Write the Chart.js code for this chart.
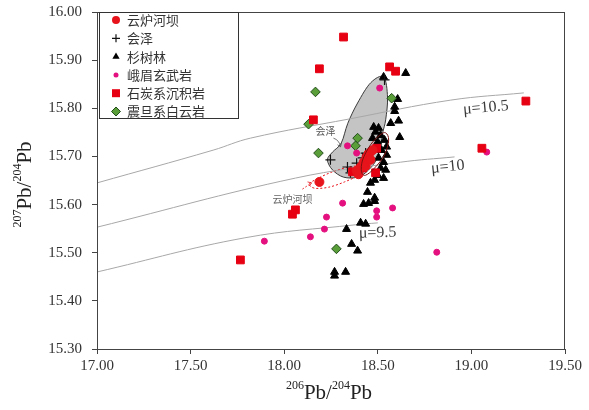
<!DOCTYPE html>
<html>
<head>
<meta charset="utf-8">
<script src="https://cdn.jsdelivr.net/npm/chart.js@4.4.1/dist/chart.umd.min.js"></script>
<style>
  html, body { margin: 0; padding: 0; background: #fff; }
</style>
</head>
<body>
<canvas id="myChart" width="589" height="410"></canvas>
<script>
// sample groups (legend order)
var groups = ['云炉河坝', '会泽', '杉树林', '峨眉玄武岩', '石炭系沉积岩', '震旦系白云岩'];

// [206Pb/204Pb, 207Pb/204Pb]
var yunluheba = [[18.188, 15.647], [18.387, 15.670], [18.408, 15.678], [18.424, 15.688], [18.440, 15.699],
  [18.456, 15.707], [18.472, 15.713], [18.397, 15.663], [18.435, 15.680], [18.461, 15.693]];
var huize = [[18.247, 15.693], [18.338, 15.678], [18.354, 15.666], [18.387, 15.686], [18.397, 15.668],
  [18.435, 15.707], [18.445, 15.688], [18.419, 15.697], [18.536, 15.859]];
var shanshulin = [[18.649, 15.873], [18.531, 15.865], [18.606, 15.819], [18.590, 15.803], [18.590, 15.794],
  [18.569, 15.769], [18.611, 15.774], [18.617, 15.740], [18.478, 15.761], [18.504, 15.759], [18.488, 15.751],
  [18.515, 15.744], [18.472, 15.738], [18.536, 15.734], [18.499, 15.730], [18.547, 15.720], [18.520, 15.713],
  [18.547, 15.703], [18.504, 15.697], [18.531, 15.688], [18.515, 15.676], [18.542, 15.672], [18.499, 15.661],
  [18.531, 15.655], [18.483, 15.651], [18.461, 15.645], [18.445, 15.626], [18.483, 15.614], [18.424, 15.601],
  [18.451, 15.603], [18.483, 15.607], [18.408, 15.562], [18.435, 15.560], [18.333, 15.549], [18.360, 15.518],
  [18.392, 15.504], [18.269, 15.460], [18.269, 15.452], [18.328, 15.460]];
var emei = [[18.510, 15.842], [18.338, 15.722], [18.387, 15.707], [19.082, 15.709], [18.815, 15.501],
  [18.312, 15.603], [18.226, 15.574], [18.215, 15.549], [18.140, 15.533], [17.894, 15.524],
  [18.579, 15.593], [18.494, 15.587], [18.494, 15.574]];
var shitan = [[18.317, 15.948], [18.188, 15.882], [18.563, 15.886], [18.595, 15.877], [18.156, 15.776],
  [19.291, 15.815], [19.056, 15.717], [18.060, 15.589], [18.044, 15.580], [17.766, 15.485],
  [18.494, 15.717], [18.488, 15.666], [18.365, 15.668], [18.451, 15.703], [18.419, 15.676]];
var zhendan = [[18.167, 15.834], [18.130, 15.767], [18.574, 15.821], [18.392, 15.738], [18.381, 15.722],
  [18.183, 15.707], [18.279, 15.508]];

// growth curves
var muNames = ['μ=10.5', 'μ=10', 'μ=9.5'];
var mu105 = [[17.00, 15.645], [17.62, 15.713], [17.82, 15.738], [18.35, 15.778], [18.89, 15.817], [19.28, 15.832]];
var mu10 = [[17.00, 15.553], [18.06, 15.655], [18.62, 15.688], [18.91, 15.699]];
var mu95 = [[17.00, 15.460], [17.79, 15.531], [18.38, 15.558], [18.50, 15.562]];

// field outlines
var huizeField = [[18.531, 15.865], [18.552, 15.823], [18.542, 15.776], [18.526, 15.749], [18.499, 15.699],
  [18.451, 15.672], [18.392, 15.657], [18.317, 15.657], [18.258, 15.672], [18.231, 15.693], [18.258, 15.709],
  [18.305, 15.728], [18.340, 15.769], [18.392, 15.811], [18.462, 15.853]];
var yunluField = [[18.135, 15.643], [18.183, 15.655], [18.258, 15.668], [18.344, 15.678], [18.408, 15.680],
  [18.429, 15.676], [18.397, 15.661], [18.322, 15.647], [18.237, 15.636], [18.162, 15.634]];
var yunluCore = [[18.542, 15.749], [18.558, 15.734], [18.536, 15.703], [18.483, 15.676], [18.435, 15.661],
  [18.413, 15.668], [18.419, 15.693], [18.461, 15.724], [18.510, 15.744]];

var xTicks = ['17.00', '17.50', '18.00', '18.50', '19.00', '19.50'];

var serif = "'Liberation Serif', 'Times New Roman', serif";
var cjk = "'Noto Sans CJK SC', 'Noto Sans CJK JP', sans-serif";

var looks = [
  {style: 'circle', r: 4.5, bg: '#e8141b', bc: '#e8141b', bw: 1},
  {style: 'cross', r: 5, bg: '#111', bc: '#111', bw: 1.2},
  {style: 'triangle', r: 4.6, bg: '#000', bc: '#000', bw: 1},
  {style: 'circle', r: 3, bg: '#e4107f', bc: '#e4107f', bw: 1},
  {style: 'rect', r: 5.5, bg: '#e60012', bc: '#e60012', bw: 1},
  {style: 'rectRot', r: 4.8, bg: '#5a9e3a', bc: '#234d1c', bw: 1}
];
var drawOrder = [0, 2, 5, 3, 1, 4];

function toXY(a) { return a.map(function (p) { return {x: p[0], y: p[1]}; }); }

var datasets = [yunluheba, huize, shanshulin, emei, shitan, zhendan].map(function (pts, i) {
  var s = looks[i];
  return {
    label: groups[i], data: toXY(pts), order: drawOrder[i],
    pointStyle: s.style, pointRadius: s.r, pointBackgroundColor: s.bg,
    pointBorderColor: s.bc, pointBorderWidth: s.bw, showLine: false
  };
});
[mu105, mu10, mu95].forEach(function (pts, i) {
  datasets.push({
    label: muNames[i], data: toXY(pts), order: 10, showLine: true, pointRadius: 0,
    borderColor: '#a8a8a8', borderWidth: 1, tension: 0.4
  });
});

function smoothClosed(ctx, pts) {
  var n = pts.length;
  ctx.beginPath();
  ctx.moveTo(pts[0][0], pts[0][1]);
  for (var i = 0; i < n; i++) {
    var p0 = pts[(i - 1 + n) % n], p1 = pts[i], p2 = pts[(i + 1) % n], p3 = pts[(i + 2) % n];
    ctx.bezierCurveTo(p1[0] + (p2[0] - p0[0]) / 6, p1[1] + (p2[1] - p0[1]) / 6,
      p2[0] - (p3[0] - p1[0]) / 6, p2[1] - (p3[1] - p1[1]) / 6, p2[0], p2[1]);
  }
  ctx.closePath();
}

function px(chart, p) {
  return [chart.scales.x.getPixelForValue(p[0]), chart.scales.y.getPixelForValue(p[1])];
}

function marker(ctx, s, x, y, r) {
  ctx.save();
  ctx.fillStyle = s.bg; ctx.strokeStyle = s.bc; ctx.lineWidth = s.bw;
  ctx.beginPath();
  if (s.style === 'circle') { ctx.arc(x, y, r, 0, Math.PI * 2); ctx.fill(); }
  else if (s.style === 'cross') { ctx.moveTo(x - r, y); ctx.lineTo(x + r, y); ctx.moveTo(x, y - r); ctx.lineTo(x, y + r); ctx.stroke(); }
  else if (s.style === 'triangle') { ctx.moveTo(x, y - r); ctx.lineTo(x + r * 0.87, y + r * 0.5); ctx.lineTo(x - r * 0.87, y + r * 0.5); ctx.closePath(); ctx.fill(); }
  else if (s.style === 'rect') { ctx.rect(x - r, y - r, 2 * r, 2 * r); ctx.fill(); }
  else { ctx.moveTo(x, y - r); ctx.lineTo(x + r, y); ctx.lineTo(x, y + r); ctx.lineTo(x - r, y); ctx.closePath(); ctx.fill(); ctx.stroke(); }
  ctx.restore();
}

function rich(ctx, parts, cx, cy, angle) {
  ctx.save();
  ctx.translate(cx, cy); ctx.rotate(angle);
  var w = 0;
  parts.forEach(function (p) { ctx.font = p.f; p.w = ctx.measureText(p.t).width; w += p.w; });
  var x = -w / 2;
  ctx.fillStyle = '#222'; ctx.textBaseline = 'alphabetic'; ctx.textAlign = 'left';
  parts.forEach(function (p) { ctx.font = p.f; ctx.fillText(p.t, x, p.dy); x += p.w; });
  ctx.restore();
}

function isoTitle(a, b) {
  var big = '21px ' + serif, small = '12px ' + serif;
  return [{t: a, f: small, dy: -3}, {t: 'Pb', f: big, dy: 7}, {t: '/', f: big, dy: 7},
    {t: b, f: small, dy: -3}, {t: 'Pb', f: big, dy: 7}];
}

var decor = {
  id: 'decor',
  beforeDatasetsDraw: function (chart) {
    var ctx = chart.ctx;
    ctx.save();
    smoothClosed(ctx, huizeField.map(function (p) { return px(chart, p); }));
    ctx.fillStyle = '#c4c4c4'; ctx.fill();
    ctx.strokeStyle = '#3a3a3a'; ctx.lineWidth = 1; ctx.stroke();
    smoothClosed(ctx, yunluField.map(function (p) { return px(chart, p); }));
    ctx.setLineDash([2, 2]); ctx.strokeStyle = '#e8141b'; ctx.lineWidth = 1; ctx.stroke();
    ctx.setLineDash([]);
    ctx.restore();
  },
  afterDatasetsDraw: function (chart) {
    var ctx = chart.ctx, a = chart.chartArea;
    ctx.save();
    smoothClosed(ctx, yunluCore.map(function (p) { return px(chart, p); }));
    ctx.strokeStyle = '#7a1010'; ctx.lineWidth = 1; ctx.stroke();

    // curve labels
    ctx.fillStyle = '#3a3a3a'; ctx.font = '16px ' + serif;
    ctx.textAlign = 'center'; ctx.textBaseline = 'middle';
    [[19.077, 15.801, -0.09], [18.874, 15.678, -0.1], [18.499, 15.541, -0.03]].forEach(function (l, i) {
      var p = px(chart, l);
      ctx.save(); ctx.translate(p[0], p[1]); ctx.rotate(l[2]); ctx.fillText(muNames[i], 0, 0); ctx.restore();
    });

    // field labels with arrows
    ctx.font = '10px ' + cjk; ctx.fillStyle = '#555';
    var h = px(chart, [18.221, 15.753]);
    ctx.fillText(groups[1], h[0], h[1]);
    var a1 = px(chart, [18.263, 15.738]), a2 = px(chart, [18.301, 15.720]);
    ctx.strokeStyle = '#555'; ctx.lineWidth = 0.8;
    ctx.beginPath(); ctx.moveTo(a1[0], a1[1]); ctx.quadraticCurveTo(a1[0] + 6, a1[1] + 2, a2[0], a2[1]); ctx.stroke();
    ctx.beginPath(); ctx.moveTo(a2[0] - 3, a2[1] - 2); ctx.lineTo(a2[0], a2[1]); ctx.lineTo(a2[0] + 1, a2[1] - 4); ctx.stroke();

    var y = px(chart, [18.044, 15.612]);
    ctx.fillStyle = '#666';
    ctx.fillText(groups[0], y[0], y[1]);
    var b1 = px(chart, [18.097, 15.632]), b2 = px(chart, [18.146, 15.645]);
    ctx.strokeStyle = '#e8141b'; ctx.setLineDash([2, 1.5]);
    ctx.beginPath(); ctx.moveTo(b1[0], b1[1]); ctx.lineTo(b2[0], b2[1]); ctx.stroke();
    ctx.setLineDash([]);
    ctx.beginPath(); ctx.moveTo(b2[0] - 4, b2[1] - 1); ctx.lineTo(b2[0], b2[1]); ctx.lineTo(b2[0] - 2, b2[1] + 3); ctx.stroke();

    // frame
    ctx.strokeStyle = '#444'; ctx.lineWidth = 1;
    ctx.strokeRect(a.left + 0.5, a.top + 0.5, a.right - a.left - 1, a.bottom - a.top);
    ctx.restore();
  },
  afterDraw: function (chart) {
    var ctx = chart.ctx, a = chart.chartArea;
    // legend box
    var lx = a.left + 2, ly = a.top, lw = 139, lh = 106;
    ctx.save();
    ctx.fillStyle = '#fff'; ctx.fillRect(lx, ly, lw, lh);
    ctx.strokeStyle = '#333'; ctx.lineWidth = 1;
    ctx.strokeRect(lx + 0.5, ly + 0.5, lw, lh);
    ctx.font = '13px ' + cjk; ctx.fillStyle = '#333';
    ctx.textAlign = 'left'; ctx.textBaseline = 'middle';
    var legR = [4, 4, 4.2, 2.5, 4, 4.5];
    groups.forEach(function (g, i) {
      var ry = ly + 8 + i * 18.3;
      marker(ctx, looks[i], lx + 17, ry, legR[i]);
      ctx.fillText(g, lx + 28, ry);
    });
    ctx.restore();
    // axis titles
    rich(ctx, isoTitle('206', '204'), (a.left + a.right) / 2 - 2, 392, 0);
    rich(ctx, isoTitle('207', '204'), 24, (a.top + a.bottom) / 2 + 4, -Math.PI / 2);
  }
};

var ctx = document.getElementById('myChart');
var myChart = new Chart(ctx, {
  type: 'scatter',
  data: {datasets: datasets},
  plugins: [decor],
  options: {
    responsive: false,
    animation: false,
    devicePixelRatio: 1,
    layout: {padding: {left: 0, right: 24, top: 12, bottom: 0}},
    plugins: {legend: {display: false}, tooltip: {enabled: false}},
    scales: {
      x: {
        type: 'linear', min: 17, max: 19.5,
        afterBuildTicks: function (s) { s.ticks = xTicks.map(function (t) { return {value: parseFloat(t)}; }); },
        ticks: {
          callback: function (v) { return v.toFixed(2); },
          font: {family: serif, size: 15}, color: '#333', padding: 3, maxRotation: 0
        },
        grid: {drawOnChartArea: false, tickLength: 5, color: '#444'},
        border: {color: '#444'},
        afterFit: function (s) { s.height = 61; s.paddingLeft = 0; s.paddingRight = 0; }
      },
      y: {
        type: 'linear', min: 15.3, max: 16.0,
        ticks: {
          stepSize: 0.1,
          callback: function (v) { return v.toFixed(2); },
          font: {family: serif, size: 15}, color: '#333', padding: 10
        },
        grid: {drawOnChartArea: false, tickLength: 5, color: '#444'},
        border: {color: '#444'},
        afterFit: function (s) { s.width = 97; s.paddingTop = 0; s.paddingBottom = 0; }
      }
    }
  }
});
</script>
</body>
</html>
